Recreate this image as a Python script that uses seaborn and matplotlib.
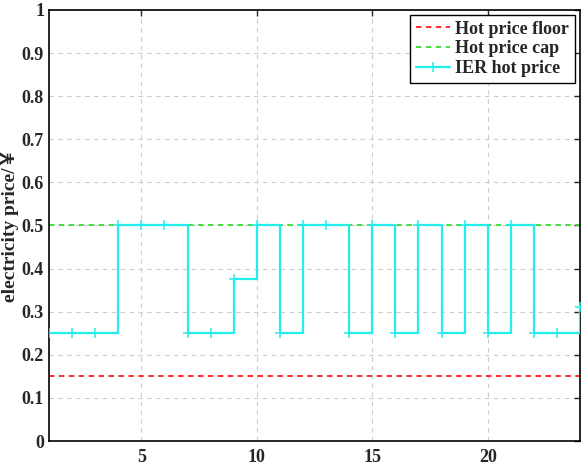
import numpy as np
import pandas as pd
import matplotlib
matplotlib.use("Agg")
import matplotlib.pyplot as plt
import seaborn as sns

hours = list(range(1, 25))
ier_price = [0.25, 0.25, 0.25, 0.5, 0.5, 0.5, 0.25, 0.25, 0.375, 0.5, 0.25, 0.5,
             0.5, 0.25, 0.5, 0.25, 0.5, 0.25, 0.5, 0.25, 0.5, 0.25, 0.25, 0.31]
price_floor = [0.15] * 24
price_cap = [0.5] * 24
labels = ["Hot price floor", "Hot price cap", "IER hot price"]

sns.set_style("white")
plt.rcParams['font.family'] = ['Liberation Serif', 'Noto Sans CJK SC']
plt.rcParams['font.weight'] = 'bold'

fig = plt.figure(figsize=(5.83, 4.65), dpi=100)
ax = fig.add_axes([0.084, 0.0516, 0.911, 0.927])

cyan = "#22EEEE"
df = pd.DataFrame({"hour": hours, "floor": price_floor, "cap": price_cap, "ier": ier_price})
sns.lineplot(data=df, x="hour", y="floor", ax=ax, color="#FF1A1A", linestyle=(0, (3, 2.5)),
             linewidth=1.3, label=labels[0])
sns.lineplot(data=df, x="hour", y="cap", ax=ax, color="#33DD33", linestyle=(0, (3, 2.5)),
             linewidth=1.3, label=labels[1])
sns.lineplot(data=df, x="hour", y="ier", ax=ax, color=cyan, drawstyle="steps-post",
             marker="+", markersize=7, markeredgewidth=1.1, markeredgecolor=cyan,
             markerfacecolor=cyan, linewidth=1.6, label=labels[2], zorder=3)

ax.set_xlim(1, 24)
ax.set_ylim(0, 1)
ax.set_xticks([5, 10, 15, 20])
ax.set_yticks(np.round(np.arange(0, 1.01, 0.1), 1))
ax.set_yticklabels(["0", "0.1", "0.2", "0.3", "0.4", "0.5", "0.6", "0.7", "0.8", "0.9", "1"])
ax.set_xlabel("")
ax.set_ylabel("electricity price/￥", fontsize=14, fontweight="bold")
ax.yaxis.set_label_coords(-0.056, 0.5)
ax.grid(True, linestyle=(0, (4, 4)), color="#CCCCCC", linewidth=0.8)
ax.tick_params(direction="in", top=True, right=True, length=4, width=1, labelsize=13)
ax.tick_params(axis="x", pad=6)
for lab in ax.get_xticklabels() + ax.get_yticklabels():
    lab.set_fontweight("bold")
for s in ax.spines.values():
    s.set_visible(True)
    s.set_color("black")
    s.set_linewidth(1.2)

leg = ax.legend(loc="upper right", fontsize=13, frameon=True, fancybox=False,
                edgecolor="black", handlelength=1.9, borderpad=0.3, labelspacing=0.15,
                handletextpad=0.3, borderaxespad=0.3)
leg.get_frame().set_linewidth(1.0)
leg.get_frame().set_alpha(1)
for t in leg.get_texts():
    t.set_fontweight("bold")

fig.savefig("out.png", dpi=100)
